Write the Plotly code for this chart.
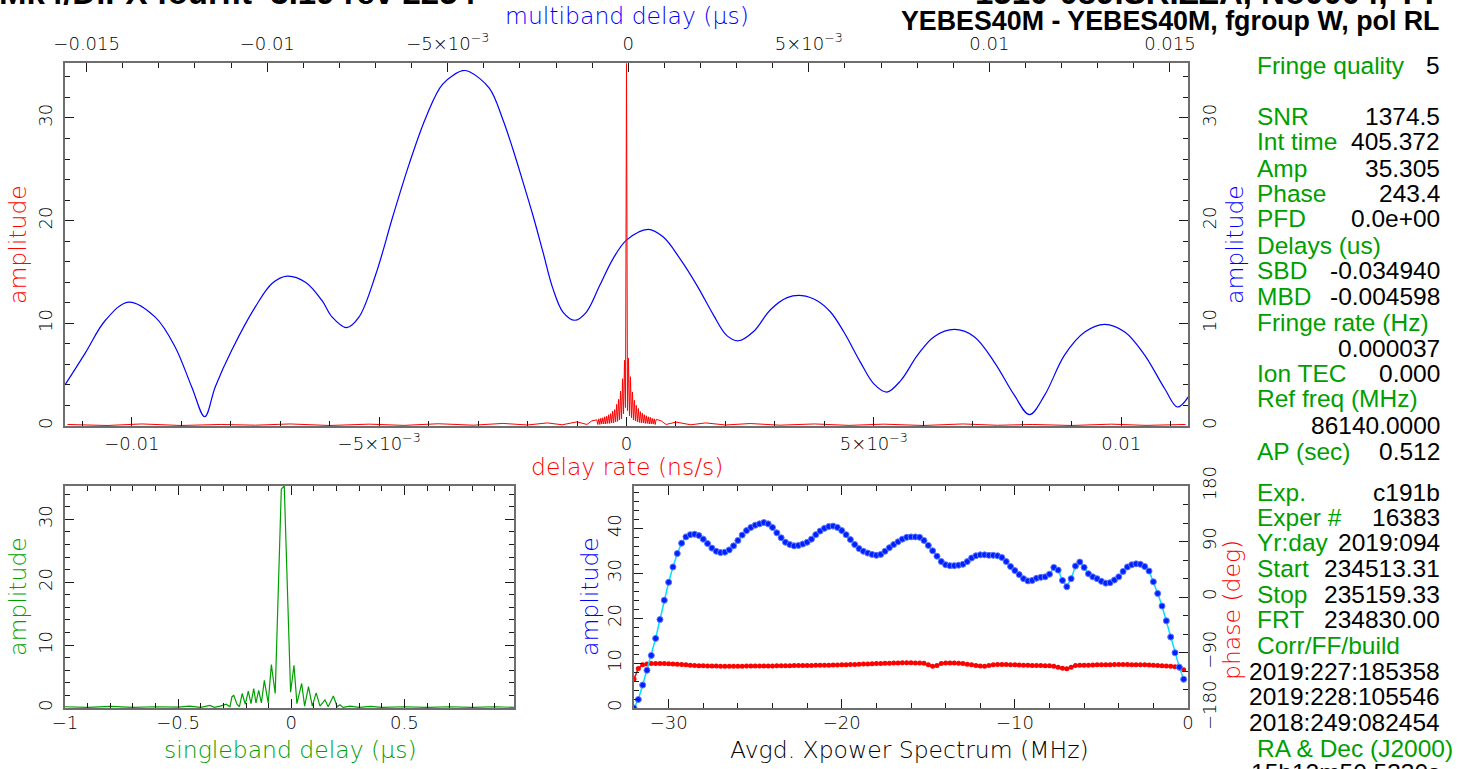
import numpy as np
import plotly.graph_objects as go

W, H = 1462, 769

# ---------------- data ----------------
# multiband delay (us) vs amplitude (blue curve, main panel)
mbd_delay = [-0.01560, -0.01504, -0.01448, -0.01384, -0.01310, -0.01255, -0.01209, -0.01173,
             -0.01144, -0.01098, -0.01033, -0.00986, -0.00945, -0.00894, -0.00848, -0.00820,
             -0.00780, -0.00746, -0.00699, -0.00653, -0.00607, -0.00560, -0.00514, -0.00459,
             -0.00440, -0.00385, -0.00348, -0.00320, -0.00292, -0.00264, -0.00236, -0.00209,
             -0.00181, -0.00148, -0.00116, -0.00079, -0.00042, -0.00005, 0.00055, 0.00097,
             0.00143, 0.00190, 0.00236, 0.00273, 0.00305, 0.00347, 0.00393, 0.00440,
             0.00481, 0.00523, 0.00560, 0.00597, 0.00643, 0.00680, 0.00716, 0.00755,
             0.00801, 0.00847, 0.00903, 0.00958, 0.01014, 0.01069, 0.01111, 0.01153,
             0.01208, 0.01264, 0.01319, 0.01375, 0.01430, 0.01486, 0.01521, 0.01555]
mbd_amp = [4.0, 7.1, 10.3, 12.07, 10.6, 7.7, 3.8, 0.9,
           3.8, 7.4, 11.6, 13.9, 14.6, 14.0, 12.2, 10.6,
           9.58, 10.6, 14.8, 20.3, 25.5, 30.1, 33.3, 34.6,
           34.5, 32.9, 29.9, 27.0, 23.8, 20.5, 16.9, 13.4,
           11.1, 10.3, 11.1, 13.7, 16.3, 18.1, 19.15, 18.4,
           16.3, 13.7, 10.8, 8.8, 8.3, 9.2, 11.3, 12.5,
           12.7, 12.2, 11.1, 9.15, 6.2, 4.1, 3.3, 4.45,
           6.9, 8.7, 9.4, 8.7, 6.2, 3.0, 1.1, 3.0,
           6.9, 9.15, 9.9, 9.15, 6.9, 3.6, 1.85, 3.05]

# delay rate (ns/s) vs amplitude (red curve, main panel)
rate_left_x = [-0.0113, -0.0105, -0.0098, -0.0090, -0.0082, -0.0075, -0.0068, -0.0060,
               -0.0052, -0.0045, -0.0038, -0.0031, -0.0025, -0.0020, -0.0016, -0.0013,
               -0.0010, -0.0008, -0.0007]
rate_left_amp = [0.15, 0.05, 0.20, 0.05, 0.15, 0.08, 0.20, 0.05,
                 0.18, 0.06, 0.22, 0.08, 0.25, 0.10, 0.30, 0.12, 0.40, 0.15, 0.50]
rate_right_x = [0.0007, 0.0008, 0.0010, 0.0013, 0.0016, 0.0020, 0.0025, 0.0031,
                0.0038, 0.0045, 0.0052, 0.0060, 0.0068, 0.0075, 0.0082, 0.0090,
                0.0098, 0.0105, 0.0113]
rate_right_amp = [0.50, 0.15, 0.38, 0.12, 0.30, 0.10, 0.24, 0.08, 0.20, 0.06,
                  0.18, 0.05, 0.20, 0.07, 0.15, 0.05, 0.18, 0.06, 0.15]
rate_step = 0.00002          # sampling step of the dense central part
rate_peak = 35.3
rate_side_right = [1.5, 6.6, 1.0, 4.8, 0.8, 3.3, 0.6, 2.5, 0.5, 2.0, 0.4, 1.7, 0.35, 1.4, 0.3,
                   1.25, 0.3, 1.1, 0.25, 1.0, 0.25, 0.9, 0.2, 0.85, 0.2, 0.75, 0.2, 0.7, 0.15, 0.65]
rate_side_left = [1.8, 6.4, 1.2, 4.6, 0.7, 3.4, 0.6, 2.6, 0.45, 2.1, 0.4, 1.6, 0.3, 1.45, 0.3,
                  1.2, 0.25, 1.1, 0.25, 0.95, 0.2, 0.9, 0.2, 0.8, 0.2, 0.75, 0.15, 0.7, 0.15, 0.6]

# singleband delay (us) vs amplitude (green)
sbd_delay = [-1.0, -0.9, -0.8, -0.7, -0.6, -0.5, -0.45, -0.40, -0.36, -0.34, -0.314, -0.30,
             -0.288, -0.271, -0.262, -0.254, -0.240, -0.229, -0.217, -0.203, -0.190, -0.178,
             -0.166, -0.156, -0.144, -0.132, -0.119, -0.102, -0.088, -0.071, -0.044, -0.031,
             -0.003, 0.012, 0.025, 0.046, 0.059, 0.076, 0.093, 0.110, 0.127, 0.149, 0.163,
             0.186, 0.203, 0.215, 0.229, 0.26, 0.30, 0.35, 0.40, 0.50, 0.60, 0.70, 0.80,
             0.90, 0.984]
sbd_amp = [0.2, 0.1, 0.25, 0.1, 0.2, 0.15, 0.3, 0.1, 0.4, 0.1, 0.3, 0.5,
           0.6, 0.2, 1.8, 2.0, 0.6, 0.2, 2.3, 0.6, 2.7, 0.7,
           3.1, 0.8, 2.8, 0.8, 4.4, 0.8, 6.9, 2.3, 34.8, 35.3,
           2.5, 6.8, 0.7, 3.9, 0.3, 3.4, 0.3, 2.4, 0.3, 1.3, 0.2,
           1.9, 0.2, 0.5, 0.1, 0.3, 0.1, 0.25, 0.1, 0.2, 0.1, 0.2, 0.1,
           0.2, 0.1]

# Averaged cross-power spectrum: 128 channels of 0.25 MHz from -32 MHz
spec_start, spec_step = -32.0, 0.25
spec_amp = [0.0, 1.9, 5.1, 8.4, 11.7, 15.5, 19.7, 24.0, 28.0, 31.4, 34.4, 36.7, 38.1, 38.6, 38.7, 38.4,
            37.6, 36.6, 35.6, 34.9, 34.6, 34.7, 35.2, 36.1, 37.3, 38.5, 39.5, 40.2, 40.7, 41.0, 41.3, 41.0,
            40.2, 39.0, 37.9, 36.9, 36.4, 36.1, 36.2, 36.5, 36.9, 37.6, 38.6, 39.4, 40.0, 40.4, 40.5, 40.2,
            39.5, 38.6, 37.5, 36.4, 35.5, 34.9, 34.5, 34.2, 34.0, 34.2, 34.9, 35.7, 36.4, 37.0, 37.6, 38.0,
            38.1, 38.1, 38.0, 37.3, 36.2, 35.0, 33.8, 32.6, 31.9, 31.7, 31.7, 31.8, 32.0, 32.6, 33.4, 33.9,
            34.1, 34.1, 34.0, 34.0, 33.9, 33.5, 32.6, 31.5, 30.6, 29.7, 28.8, 28.3, 28.4, 28.9, 29.1, 29.2,
            29.8, 31.3, 30.7, 28.4, 27.0, 28.8, 31.6, 32.5, 31.3, 29.9, 29.2, 28.8, 28.2, 27.8, 27.9, 28.5,
            29.2, 30.4, 31.4, 31.9, 32.1, 32.0, 31.5, 30.5, 28.1, 25.5, 22.7, 19.4, 15.8, 12.3, 9.1, 6.4]
spec_phase = [-133, -116, -110, -108.5, -108, -108, -108, -108, -108.2, -108.5, -109, -109.5, -110, -110.5, -111, -111.3,
              -111.5, -111.8, -112, -112, -112.2, -112.3, -112.3, -112.3, -112.2, -112.2, -112, -112, -112, -111.8, -111.8, -111.8,
              -111.7, -111.6, -111.5, -111.5, -111.3, -111.2, -111.2, -111, -111, -111, -110.8, -110.6, -110.5, -110.5, -110.3, -110.2,
              -110, -109.8, -109.5, -109.3, -109, -108.8, -108.5, -108.3, -108, -107.8, -107.5, -107.3, -107, -107, -106.8, -106.8,
              -106.8, -107, -107, -107.5, -110, -112.5, -111, -108, -107, -107, -107.2, -107.5, -108, -109, -110, -111,
              -112, -112.2, -111, -110, -109.5, -109.5, -109.5, -109.7, -110, -110.2, -110.5, -110.8, -111, -111, -111, -111.3,
              -111.5, -112.5, -114, -115.5, -116.5, -114, -111, -110.5, -110.5, -110.5, -110.3, -110, -110, -109.8, -109.8, -109.5,
              -109.5, -109.5, -109.5, -109.7, -109.8, -110, -110, -110.2, -110.5, -111, -111.5, -112, -112.5, -113, -115, -118]

# text panel
panel_rows = [
    (65, "Fringe quality", "5"),
    (117, "SNR", "1374.5"),
    (142, "Int time", "405.372"),
    (168, "Amp", "35.305"),
    (194, "Phase", "243.4"),
    (219, "PFD", "0.0e+00"),
    (245, "Delays (us)", ""),
    (270, "SBD", "-0.034940"),
    (296, "MBD", "-0.004598"),
    (322, "Fringe rate (Hz)", ""),
    (348, "", "0.000037"),
    (374, "Ion TEC", "0.000"),
    (399, "Ref freq (MHz)", ""),
    (425, "", "86140.0000"),
    (451, "AP (sec)", "0.512"),
    (492, "Exp.", "c191b"),
    (517, "Exper #", "16383"),
    (542, "Yr:day", "2019:094"),
    (568, "Start", "234513.31"),
    (594, "Stop", "235159.33"),
    (619, "FRT", "234830.00"),
    (645, "Corr/FF/build", ""),
    (671, "", "2019:227:185358"),
    (696, "", "2019:228:105546"),
    (722, "", "2018:249:082454"),
    (748, "RA & Dec (J2000)", ""),
    (773, "", "15h12m50.5330s"),
]
title_left = "Mk4/DiFX fourfit  3.19 rev 2254"
title_right1 = "1510-089.SRIZZA, No0004, YY"
title_right2 = "YEBES40M - YEBES40M, fgroup W, pol RL"

# ---------------- derived series ----------------
rate_center_x = list(np.arange(-30, 31) * rate_step)
rate_center_amp = rate_side_left[::-1] + [rate_peak] + rate_side_right
rate_x = rate_left_x + rate_center_x + rate_right_x
rate_amp = rate_left_amp + rate_center_amp + rate_right_amp
spec_freq = spec_start + spec_step * np.arange(len(spec_amp))

# ---------------- style ----------------
RED = "#ff0000"
BLUE = "#0000ff"
GREEN = "#009f00"
FRAME = "#6e6e6e"
TICKC = "#1a1a1a"
PG = "DejaVu Sans"
TXT = "Liberation Sans, Arial, sans-serif"
PGW = 300


def px(x):
    return x / W


def py(y):
    return 1 - y / H


main_x = [px(65), px(1188)]
main_y = [py(426), py(63)]
bl_x = [px(65), px(514)]
br_x = [px(634), px(1188)]
bot_y = [py(708), py(486)]

tickfont = dict(family=PG, size=18, color="black", weight=PGW)


def ax(**kw):
    d = dict(showgrid=False, zeroline=False, showline=True, linecolor=FRAME, linewidth=2,
             ticks="inside", ticklen=9, tickwidth=1.2, tickcolor=TICKC, tickfont=tickfont,
             fixedrange=True, automargin=False)
    d.update(kw)
    return d


def minor(dt, t0=0):
    return dict(ticks="inside", ticklen=5, tickwidth=1, tickcolor=TICKC, dtick=dt, tick0=t0, showgrid=False)


fig = go.Figure()

# main panel: blue MBD (base axes) then red rate (overlay, drawn on top)
fig.add_trace(go.Scatter(x=mbd_delay, y=mbd_amp, xaxis="x", yaxis="y", mode="lines",
                         line=dict(color=BLUE, width=1.2, shape="spline", smoothing=1.0),
                         hoverinfo="skip"))
fig.add_trace(go.Scatter(x=rate_x, y=rate_amp, xaxis="x2", yaxis="y2", mode="lines",
                         line=dict(color=RED, width=1), hoverinfo="skip"))
# singleband delay
fig.add_trace(go.Scatter(x=sbd_delay, y=sbd_amp, xaxis="x3", yaxis="y3", mode="lines",
                         line=dict(color=GREEN, width=1.2), hoverinfo="skip"))
# spectrum: phase (base) then amplitude (overlay)
fig.add_trace(go.Scatter(x=spec_freq, y=spec_phase, xaxis="x4", yaxis="y4", mode="lines+markers",
                         line=dict(color=RED, width=1.5), marker=dict(color=RED, size=5),
                         hoverinfo="skip"))
fig.add_trace(go.Scatter(x=spec_freq, y=spec_amp, xaxis="x4", yaxis="y5", mode="lines",
                         line=dict(color="#00e0ff", width=1.5), hoverinfo="skip"))
fig.add_trace(go.Scatter(x=spec_freq, y=spec_amp, xaxis="x4", yaxis="y5", mode="markers",
                         marker=dict(color="#0020ff", size=6, line=dict(color="#5a78ff", width=1)),
                         hoverinfo="skip"))

ann = []


def text(x, y, s, color, size, family=PG, xanchor="center", angle=0, bold=False, weight=None):
    if bold:
        s = "<b>" + s + "</b>"
    f = dict(family=family, size=size, color=color)
    if weight:
        f["weight"] = weight
    ann.append(dict(x=px(x), y=py(y), xref="paper", yref="paper", text=s, showarrow=False,
                    xanchor=xanchor, yanchor="middle", textangle=angle, font=f))


# axis titles
TS = 23.5
text(627, 16, "multiband delay (μs)", BLUE, TS, weight=PGW)
text(627, 467, "delay rate (ns/s)", RED, TS, weight=PGW)
text(18, 245, "amplitude", RED, TS, angle=-90, weight=PGW)
text(1235, 245, "amplitude", BLUE, TS, angle=-90, weight=PGW)
text(18, 597, "amplitude", GREEN, TS, angle=-90, weight=PGW)
text(290, 750, "singleband delay (μs)", GREEN, TS, weight=PGW)
text(590, 597, "amplitude", BLUE, TS, angle=-90, weight=PGW)
text(910, 750, "Avgd. Xpower Spectrum (MHz)", "black", TS, weight=PGW)
text(1232, 610, "phase (deg)", RED, TS, angle=-90, weight=PGW)

# titles (first line is mostly above the top edge, as in the original page)
text(-3, -7.5, title_left, "black", 33, family=TXT, xanchor="left", bold=True)
text(1442, -7.5, title_right1, "black", 33, family=TXT, xanchor="right", bold=True)
text(1442, 21, title_right2, "black", 26.8, family=TXT, xanchor="right", bold=True)

# text panel
for yy, lab, val in panel_rows:
    if lab:
        text(1255, yy, lab, GREEN, 24.5, family=TXT, xanchor="left")
    if val:
        text(1442, yy, val, "black", 24.5, family=TXT, xanchor="right")

mbd_ticks = [-0.015, -0.01, -0.005, 0, 0.005, 0.01, 0.015]
mbd_text = ["−0.015", "−0.01", "−5×10<sup>−3</sup>", "0", "5×10<sup>−3</sup>", "0.01", "0.015"]
rate_ticks = [-0.01, -0.005, 0, 0.005, 0.01]
rate_text = ["−0.01", "−5×10<sup>−3</sup>", "0", "5×10<sup>−3</sup>", "0.01"]

fig.update_layout(
    width=W, height=H, margin=dict(l=0, r=0, t=0, b=0, autoexpand=False), autosize=False,
    paper_bgcolor="white", plot_bgcolor="white", showlegend=False,
    xaxis=ax(domain=main_x, anchor="y", side="top", range=[-0.0156, 0.0155],
             tickvals=mbd_ticks, ticktext=mbd_text, minor=minor(0.001), ticklabelstandoff=4),
    yaxis=ax(domain=main_y, anchor="x", side="right", range=[0, 35.35],
             tickvals=[0, 10, 20, 30], minor=minor(2), tickangle=-90, ticklabelstandoff=4),
    xaxis2=ax(overlaying="x", anchor="y2", side="bottom", range=[-0.01135, 0.01135],
              tickvals=rate_ticks, ticktext=rate_text, minor=minor(0.001), ticklabelstandoff=0),
    yaxis2=ax(overlaying="y", anchor="x2", side="left", range=[0, 35.35],
              tickvals=[0, 10, 20, 30], minor=minor(2), tickangle=-90, ticklabelstandoff=4),
    xaxis3=ax(domain=bl_x, anchor="y3", range=[-1, 0.984375], tick0=-1, dtick=0.5,
              minor=minor(0.1, -1), mirror="ticks", ticklabelstandoff=-3),
    yaxis3=ax(domain=bot_y, anchor="x3", range=[0, 35.3], tick0=0, dtick=10,
              minor=minor(2), mirror="ticks", tickangle=-90, ticklabelstandoff=4),
    xaxis4=ax(domain=br_x, anchor="y4", range=[-32, 0], tick0=0, dtick=10,
              minor=minor(2), mirror="ticks", ticklabelstandoff=-3),
    yaxis4=ax(domain=bot_y, anchor="x4", side="right", range=[-180, 180], tick0=0, dtick=90,
              minor=minor(30), tickangle=-90, ticklabelstandoff=4),
    yaxis5=ax(overlaying="y4", anchor="x4", side="left", range=[0, 49.43], tick0=0, dtick=10,
              minor=minor(2), tickangle=-90, ticklabelstandoff=4),
    annotations=ann,
)

fig.write_html("out.html", config={"displayModeBar": False},
               post_script="document.body.style.margin='0';document.body.style.overflow='hidden';")
